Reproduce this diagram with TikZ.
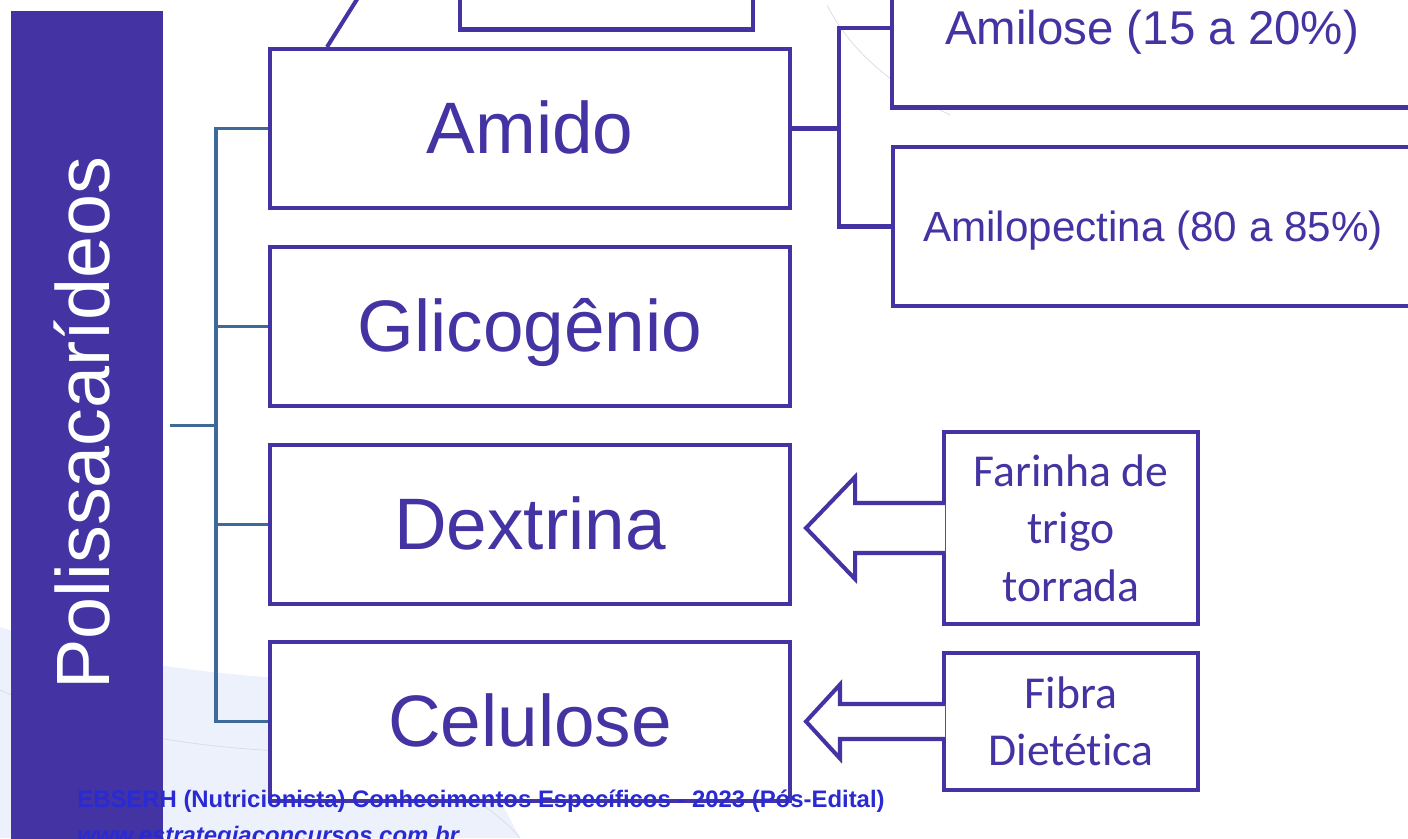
\documentclass[tikz,border=0pt]{standalone}
\usepackage{fontspec}
\setmainfont{Liberation Sans}
\newfontfamily\calibrifont[Ligatures=NoCommon]{Carlito}
\usepackage{tikz}
\usetikzlibrary{calc,positioning}
\definecolor{poliblue}{RGB}{67,51,163}
\definecolor{polisteel}{RGB}{62,106,154}
\definecolor{polifoot}{RGB}{42,42,212}
\definecolor{polipale}{RGB}{236,241,252}
\definecolor{poliarc}{RGB}{218,218,232}
\tikzstyle{treeline} = [line width=1.8pt, color=polisteel]
\tikzstyle{boxline} = [line width=2.3pt, color=poliblue, line join=miter]
\tikzstyle{mainbox} = [rectangle, draw=poliblue, fill=white, line width=2.3pt, minimum width=10.4cm, minimum height=3.18cm, inner sep=0pt, text=poliblue, font=\fontsize{41.5pt}{50pt}\selectfont, text height=29pt, text depth=0pt]
\tikzstyle{callbox} = [rectangle, draw=poliblue, fill=white, line width=2.3pt, minimum width=5.08cm, inner sep=0pt, text=poliblue, align=center, font=\calibrifont\fontsize{26pt}{32.7pt}\selectfont]
\tikzstyle{foottext} = [anchor=base west, inner sep=0pt, text=polifoot]

\begin{document}
\begin{tikzpicture}[x=0.02cm, y=-0.02cm]
\useasboundingbox (0,0) rectangle (1408,838);
\clip (0,0) rectangle (1408,838);
% background of the slide
\fill[white] (0,0) rectangle (1408,838);
\fill[polipale] (0,627) .. controls (100,660) and (200,678) .. (400,684) .. controls (470,740) and (500,800) .. (520,838) -- (0,838) -- cycle;
\draw[poliarc] (0,690) .. controls (100,735) and (200,748) .. (300,752);
\draw[poliarc] (827,5) .. controls (850,50) and (890,85) .. (950,115);
\draw[poliarc] (470,795) .. controls (490,810) and (510,825) .. (520,838);

% rest of the previous diagram
\node[mainbox, minimum width=5.86cm] (prevbox) at (606.5,-50) {};
\coordinate (prevfoot) at (327,47);
\coordinate (prevtop) at (366,-15);
\draw[boxline] (prevfoot) -- (prevtop);

% side bar
\node[rectangle, fill=poliblue, minimum width=3.04cm, minimum height=17cm, inner sep=0pt] (bar) at (87,436) {};
\node[rotate=90, text=white, inner sep=0pt, font=\fontsize{43pt}{50pt}\selectfont, text height=31pt, text depth=0pt] (title) at (82.5,423) {Polissacarídeos};

% polissacarideos
\node[mainbox] (amido) at (530,128.5) {Amido};
\node[mainbox] (glicogenio) at (530,326.5) {Glicogênio};
\node[mainbox] (dextrina) at (530,524.5) {Dextrina};
\node[mainbox] (celulose) at (530,721.5) {Celulose};

\coordinate (root) at (170,425.5);
\draw[treeline] (amido.west) -- ++(-52,0) coordinate (trunk) |- (celulose.west);
\draw[treeline] (root) -- (root -| trunk);
\draw[treeline] (glicogenio.west) -- ++(-52,0);
\draw[treeline] (dextrina.west) -- ++(-52,0);

% amido
\node[mainbox, font=\fontsize{27pt}{32pt}\selectfont, text height=18.9pt] (amilose) at (1152,28) {Amilose (15 a 20\%)};
\node[mainbox, font=\fontsize{24pt}{29pt}\selectfont, text height=16.8pt] (amilopectina) at (1153,226.5) {Amilopectina (80 a 85\%)};
\draw[boxline] (amilose.west) -- ++(-51,0) coordinate (fork) |- (amilopectina.west);
\draw[boxline] (amido.east) -- (amido.east -| fork);

% sources
\node[callbox, minimum height=3.84cm] (farinha) at (1071,528) {Farinha de\\trigo\\torrada};
\node[callbox, minimum height=2.74cm] (fibra) at (1071,721.5) {Fibra\\Dietética};
\draw[boxline, fill=white] (farinha.west) ++(3,-25) -- ++(-90,0) -- ++(0,-26) -- ++(-49,51) -- ++(49,51) -- ++(0,-26) -- ++(90,0);
\draw[boxline, fill=white] (fibra.west) ++(3,-17.5) -- ++(-105,0) -- ++(0,-19.5) -- ++(-34,37) -- ++(34,37) -- ++(0,-19.5) -- ++(105,0);

% footer
\node[foottext, font=\bfseries\fontsize{13.6pt}{16pt}\selectfont] (footer) at (77,807) {EBSERH (Nutricionista) Conhecimentos Específicos - 2023 (Pós-Edital)};
\node[foottext, font=\bfseries\itshape\fontsize{13.6pt}{16pt}\selectfont] (site) at (77,843) {www.estrategiaconcursos.com.br};
\end{tikzpicture}
\end{document}
